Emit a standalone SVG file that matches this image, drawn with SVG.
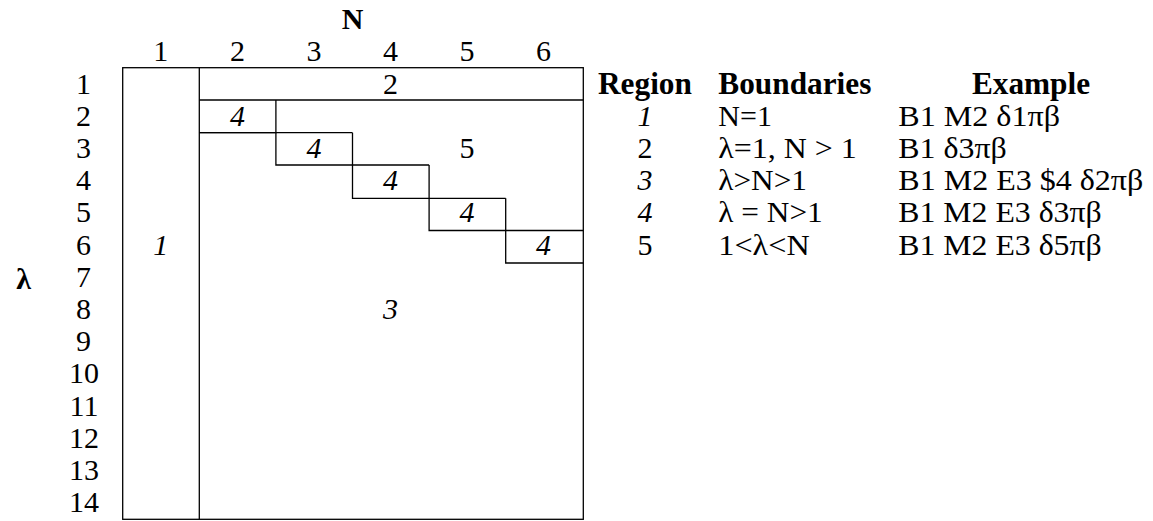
<svg xmlns="http://www.w3.org/2000/svg" width="1153" height="521" viewBox="0 0 1153 521">
<style>
text{font-family:"Liberation Serif","Times New Roman",serif;font-size:30px;fill:#000}
.c{text-anchor:middle}
.b{font-weight:bold}
.h{font-size:31.3px}
.i{font-style:italic}
.ln{stroke:#000;stroke-width:1.3;fill:none}
</style>
<rect width="1153" height="521" fill="#fff"/>
<g id="axis-N">
<text class="c b" x="352.5" y="28.5">N</text>
<text class="c" x="160.8" y="61">1</text>
<text class="c" x="237.6" y="61">2</text>
<text class="c" x="314" y="61">3</text>
<text class="c" x="390.5" y="61">4</text>
<text class="c" x="467" y="61">5</text>
<text class="c" x="543.6" y="61">6</text>
</g>
<g id="axis-lambda">
<text class="c b" x="23.5" y="289">λ</text>
<text class="c" x="83.5" y="93.5">1</text>
<text class="c" x="83.5" y="125.7">2</text>
<text class="c" x="83.5" y="157.9">3</text>
<text class="c" x="83.5" y="190.1">4</text>
<text class="c" x="83.5" y="222.3">5</text>
<text class="c" x="83.5" y="254.5">6</text>
<text class="c" x="83.5" y="286.7">7</text>
<text class="c" x="83.5" y="318.9">8</text>
<text class="c" x="83.5" y="351.1">9</text>
<text class="c" x="84" y="383.3">10</text>
<text class="c" x="84" y="415.5">11</text>
<text class="c" x="84" y="447.7">12</text>
<text class="c" x="84" y="479.9">13</text>
<text class="c" x="84" y="512.1">14</text>
</g>
<g id="grid-lines">
<rect class="ln" x="122.7" y="67.7" width="460.6" height="451.6"/>
<line class="ln" x1="199.3" y1="67.7" x2="199.3" y2="519.3"/>
<line class="ln" x1="199.3" y1="100" x2="583.3" y2="100"/>
<polyline class="ln" points="199.3,132.7 275.9,132.7 275.9,100"/>
<polyline class="ln" points="199.3,132.7 352.5,132.7"/>
<polyline class="ln" points="275.9,132.7 275.9,165 429.1,165"/>
<polyline class="ln" points="352.5,132.7 352.5,198.3 505.7,198.3"/>
<polyline class="ln" points="429.1,165 429.1,230.5 583.3,230.5"/>
<polyline class="ln" points="505.7,198.3 505.7,263 583.3,263"/>
</g>
<g id="region-1"><text class="c i" x="160.8" y="254.5">1</text></g>
<g id="region-2"><text class="c" x="390.5" y="93.5">2</text></g>
<g id="region-3"><text class="c i" x="390.5" y="318.9">3</text></g>
<g id="region-4">
<text class="c i" x="237.6" y="125.7">4</text>
<text class="c i" x="314" y="157.9">4</text>
<text class="c i" x="390.5" y="190.1">4</text>
<text class="c i" x="467" y="222.3">4</text>
<text class="c i" x="543.6" y="254.5">4</text>
</g>
<g id="region-5"><text class="c" x="467" y="157.9">5</text></g>
<g id="legend">
<text class="b h" x="598" y="93.5">Region</text>
<text class="b h" x="718.3" y="93.5">Boundaries</text>
<text class="b h c" x="1031" y="93.5">Example</text>
<text class="c i" x="645" y="125.7">1</text>
<text class="c" x="645" y="157.9">2</text>
<text class="c i" x="645" y="190.1">3</text>
<text class="c i" x="645" y="222.3">4</text>
<text class="c" x="645" y="254.5">5</text>
<text x="718.3" y="125.7">N=1</text>
<text x="718.3" y="157.9" textLength="138.4" lengthAdjust="spacingAndGlyphs">λ=1, N &gt; 1</text>
<text x="718.3" y="190.1" textLength="88.7" lengthAdjust="spacingAndGlyphs">λ&gt;N&gt;1</text>
<text x="718.3" y="222.3" textLength="104.4" lengthAdjust="spacingAndGlyphs">λ = N&gt;1</text>
<text x="718.3" y="254.5" textLength="91.4" lengthAdjust="spacingAndGlyphs">1&lt;λ&lt;N</text>
<text x="898.3" y="125.7" textLength="161.7" lengthAdjust="spacingAndGlyphs">B1 M2 δ1πβ</text>
<text x="898.3" y="157.9" textLength="108.4" lengthAdjust="spacingAndGlyphs">B1 δ3πβ</text>
<text x="898.3" y="190.1" textLength="245" lengthAdjust="spacingAndGlyphs">B1 M2 E3 $4 δ2πβ</text>
<text x="898.3" y="222.3" textLength="203.4" lengthAdjust="spacingAndGlyphs">B1 M2 E3 δ3πβ</text>
<text x="898.3" y="254.5" textLength="203.4" lengthAdjust="spacingAndGlyphs">B1 M2 E3 δ5πβ</text>
</g>
</svg>
